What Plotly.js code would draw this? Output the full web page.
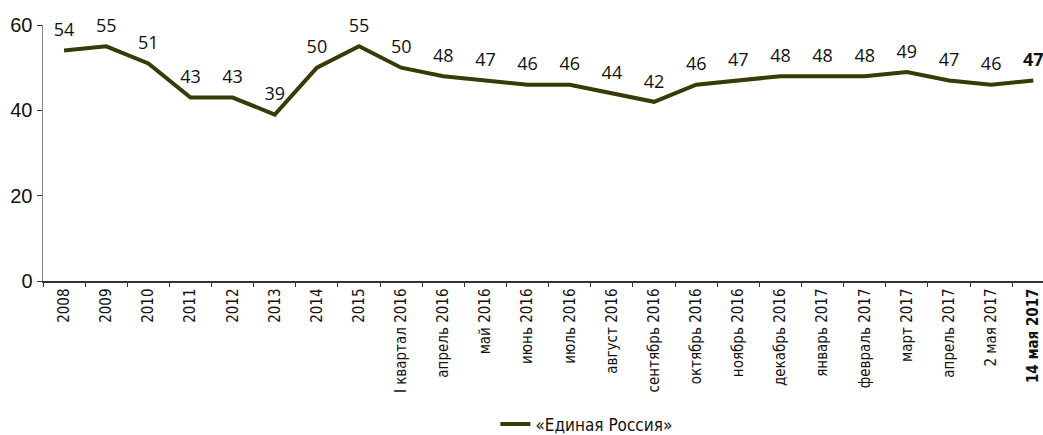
<!DOCTYPE html>
<html>
<head>
<meta charset="utf-8">
<script src="https://cdn.plot.ly/plotly-3.0.1.min.js"></script>
<style>html,body{margin:0;padding:0;background:#fff;}#chart{width:1043px;height:435px;}</style>
</head>
<body>
<div id="chart"></div>
<script>
const categories = ["2008","2009","2010","2011","2012","2013","2014","2015",
  "I квартал 2016","апрель 2016","май 2016","июнь 2016","июль 2016","август 2016",
  "сентябрь 2016","октябрь 2016","ноябрь 2016","декабрь 2016","январь 2017",
  "февраль 2017","март 2017","апрель 2017","2 мая 2017","14 мая 2017"];
const values = [54,55,51,43,43,39,50,55,50,48,47,46,46,44,42,46,47,48,48,48,49,47,46,47];
const seriesName = "«Единая Россия»";
const yTicks = [0,20,40,60];

const lastIdx = categories.length - 1;
const tickText = categories.map((c,i) => i === lastIdx ? "<b>" + c + "</b>" : c);
const labelText = values.map((v,i) => i === lastIdx ? "<b>" + v + "</b>" : String(v));

const trace = {
  x: categories, y: values, name: seriesName,
  type: "scatter", mode: "lines+markers+text",
  line: {color: "#3a3a06", width: 4},
  marker: {size: 14, color: "rgba(0,0,0,0)", line: {width: 0}},
  text: labelText, textposition: "top center",
  textfont: {family: "Open Sans, Noto Sans, sans-serif", size: 18, color: "#111"},
  cliponaxis: false, hoverinfo: "skip"
};

const layout = {
  width: 1043, height: 435,
  margin: {l: 43, r: 0, t: 25, b: 154, pad: 0},
  paper_bgcolor: "#fff", plot_bgcolor: "#fff",
  showlegend: true,
  legend: {orientation: "h", xref: "container", yref: "container",
    x: 0.475, xanchor: "left", y: 0.024, yanchor: "middle",
    font: {family: "Liberation Sans Narrow, DejaVu Sans Condensed, sans-serif", size: 17, color: "#111"}},
  xaxis: {
    type: "category", categoryorder: "array", categoryarray: categories, automargin: false,
    range: [-0.5, 23.23], tickmode: "array", tickvals: categories, ticktext: tickText,
    tickangle: -90, showgrid: false, zeroline: false,
    showline: true, linecolor: "#333", linewidth: 1.5,
    ticks: "outside", ticklen: 4, tickcolor: "#333", tickson: "boundaries",
    tickfont: {family: "Liberation Sans Narrow, DejaVu Sans Condensed, sans-serif", size: 15, color: "#111"},
    fixedrange: true
  },
  yaxis: {
    range: [0, 60], tickmode: "array", tickvals: yTicks, automargin: false,
    showgrid: false, zeroline: false,
    showline: true, linecolor: "#888", linewidth: 1.5,
    ticks: "outside", ticklen: 5, tickcolor: "#333",
    tickfont: {family: "Liberation Sans, Arial, sans-serif", size: 20, color: "#111"},
    fixedrange: true
  }
};

Plotly.newPlot("chart", [trace], layout, {displayModeBar: false, staticPlot: true});
</script>
</body>
</html>
